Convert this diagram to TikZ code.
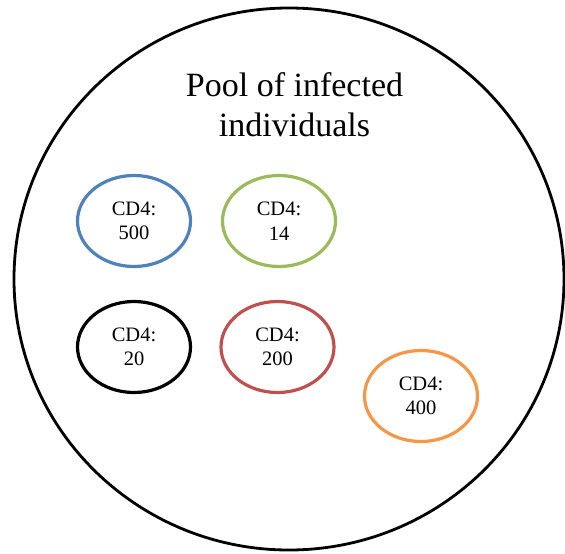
\documentclass[tikz,border=0pt]{standalone}
\usepackage{fontspec}
\setmainfont{Liberation Serif}
\usetikzlibrary{shapes.geometric}
\definecolor{cblue}{HTML}{4F81BD}
\definecolor{cgreen}{HTML}{9BBB59}
\definecolor{cred}{HTML}{C0504D}
\definecolor{corange}{HTML}{F79646}
\begin{document}
\begin{tikzpicture}[x=1pt,y=-1pt,
  cell/.style={ellipse,draw,line width=3.2pt,minimum width=113pt,minimum height=91pt,inner sep=0pt,
    align=center,font=\fontsize{20.5}{24.5}\selectfont}]
\useasboundingbox (0,0) rectangle (565,554);
\node[ellipse,draw,line width=2.8pt,minimum width=550pt,minimum height=542pt,inner sep=0pt] (pool) at (289,279) {};
\node[align=center,font=\fontsize{34}{40}\selectfont] (title) at (294.5,105) {Pool of infected\\individuals};
\node[cell,draw=cblue] (c500) at (134,221) {CD4:\\500};
\node[cell,draw=cgreen] (c14) at (279,221) {CD4:\\14};
\node[cell,draw=black] (c20) at (134,347) {CD4:\\20};
\node[cell,draw=cred] (c200) at (277.5,347) {CD4:\\200};
\node[cell,draw=corange] (c400) at (421,396) {CD4:\\400};
\end{tikzpicture}
\end{document}
